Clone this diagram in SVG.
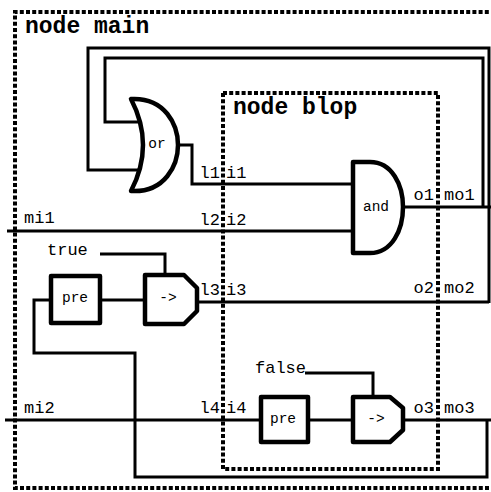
<svg xmlns="http://www.w3.org/2000/svg" width="491" height="492" viewBox="0 0 491 492">
<style>
.box{fill:none;stroke:#000;stroke-width:4;stroke-dasharray:4 2.2}
.wire{fill:none;stroke:#000;stroke-width:3;stroke-linejoin:miter}
.gate{fill:#fff;stroke:#000;stroke-width:4.5;stroke-linejoin:round}
.title{font-family:"Liberation Mono",monospace;font-weight:bold;font-size:23px;fill:#000}
.lbl{font-family:"Liberation Mono",monospace;font-size:17px;fill:#000}
.glbl{font-family:"Liberation Mono",monospace;font-size:14.5px;fill:#000;text-anchor:middle}
.end{text-anchor:end}
</style>
<rect width="491" height="492" fill="#fff"/>
<g id="connectors">
<path class="wire" d="M140 170 H88 V48 H489 V303"/>
<path class="wire" d="M140 122 H105 V58 H483 V208"/>
<path class="wire" d="M178 145 H192 V184 H353"/>
<path class="wire" d="M7 231 H353"/>
<path class="wire" d="M403 207 H491"/>
<path class="wire" d="M197 302 H489"/>
<path class="wire" d="M100 300 H145"/>
<path class="wire" d="M100 254 H165 V275"/>
<path class="wire" d="M5 420 H261"/>
<path class="wire" d="M308 420 H353"/>
<path class="wire" d="M305 373 H373 V397"/>
<path class="wire" d="M403 420 H491"/>
<path class="wire" d="M487 420 V477 H135 V353 H34 V300 H51"/>
</g>
<g id="main">
<path class="box" d="M495 12 H15 V488 H495"/>
<text class="title" x="25" y="33">node main</text>
</g>
<g id="blop">
<rect class="box" x="223" y="93" width="215" height="376"/>
<text class="title" x="233" y="114">node blop</text>
</g>
<g id="or">
<path class="gate" d="M131 99 C165 97 178 125 178 145 C178 165 165 193 131 191 Q155 145 131 99 Z"/>
<text class="glbl" x="157" y="148">or</text>
</g>
<g id="and">
<path class="gate" d="M353 162 H370 C392 162 403 185 403 207 C403 230 392 253 370 253 H353 Z"/>
<text class="glbl" x="376" y="211">and</text>
</g>
<g id="pre1">
<rect class="gate" x="51" y="276" width="49" height="47"/>
<text class="glbl" x="75" y="302">pre</text>
</g>
<g id="arrow1">
<path class="gate" d="M145 275 H184 L197 288 V311 L184 324 H145 Z"/>
<text class="glbl" x="168" y="302">-&gt;</text>
</g>
<g id="pre2">
<rect class="gate" x="261" y="397" width="47" height="45"/>
<text class="glbl" x="283" y="423">pre</text>
</g>
<g id="arrow2">
<path class="gate" d="M353 397 H390 L403 408 V430 L390 442 H353 Z"/>
<text class="glbl" x="376" y="423">-&gt;</text>
</g>
<g id="const-true"><text class="lbl" x="47" y="255">true</text></g>
<g id="const-false"><text class="lbl" x="255" y="373">false</text></g>
<g id="labels">
<text class="lbl" x="24" y="223">mi1</text>
<text class="lbl" x="24" y="413">mi2</text>
<text class="lbl end" x="220" y="178">l1</text>
<text class="lbl" x="226" y="178">i1</text>
<text class="lbl end" x="220" y="225">l2</text>
<text class="lbl" x="226" y="225">i2</text>
<text class="lbl end" x="220" y="295">l3</text>
<text class="lbl" x="226" y="295">i3</text>
<text class="lbl end" x="220" y="413">l4</text>
<text class="lbl" x="226" y="413">i4</text>
<text class="lbl end" x="434" y="200">o1</text>
<text class="lbl" x="444" y="200">mo1</text>
<text class="lbl end" x="434" y="293">o2</text>
<text class="lbl" x="444" y="293">mo2</text>
<text class="lbl end" x="434" y="413">o3</text>
<text class="lbl" x="444" y="413">mo3</text>
</g>
</svg>
